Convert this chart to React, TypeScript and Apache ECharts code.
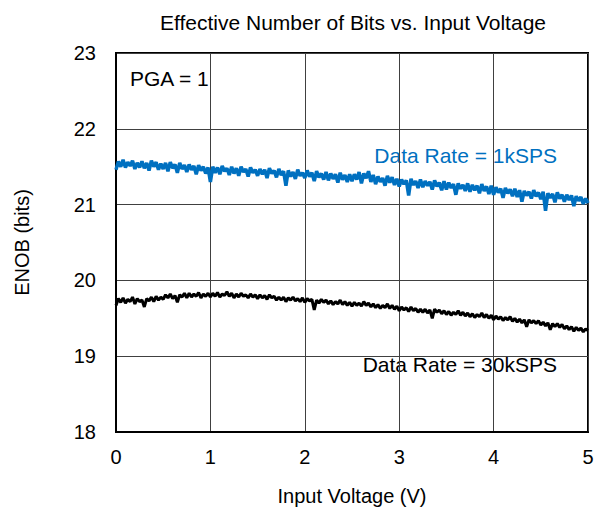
import React, { useEffect, useRef } from "react";
import * as echarts from "echarts";

const inputVoltage = [
  0, 0.025, 0.05, 0.075, 0.1, 0.125, 0.15, 0.175, 0.2, 0.225,
  0.25, 0.275, 0.3, 0.325, 0.35, 0.375, 0.4, 0.425, 0.45, 0.475,
  0.5, 0.525, 0.55, 0.575, 0.6, 0.625, 0.65, 0.675, 0.7, 0.725,
  0.75, 0.775, 0.8, 0.825, 0.85, 0.875, 0.9, 0.925, 0.95, 0.975,
  1, 1.025, 1.05, 1.075, 1.1, 1.125, 1.15, 1.175, 1.2, 1.225,
  1.25, 1.275, 1.3, 1.325, 1.35, 1.375, 1.4, 1.425, 1.45, 1.475,
  1.5, 1.525, 1.55, 1.575, 1.6, 1.625, 1.65, 1.675, 1.7, 1.725,
  1.75, 1.775, 1.8, 1.825, 1.85, 1.875, 1.9, 1.925, 1.95, 1.975,
  2, 2.025, 2.05, 2.075, 2.1, 2.125, 2.15, 2.175, 2.2, 2.225,
  2.25, 2.275, 2.3, 2.325, 2.35, 2.375, 2.4, 2.425, 2.45, 2.475,
  2.5, 2.525, 2.55, 2.575, 2.6, 2.625, 2.65, 2.675, 2.7, 2.725,
  2.75, 2.775, 2.8, 2.825, 2.85, 2.875, 2.9, 2.925, 2.95, 2.975,
  3, 3.025, 3.05, 3.075, 3.1, 3.125, 3.15, 3.175, 3.2, 3.225,
  3.25, 3.275, 3.3, 3.325, 3.35, 3.375, 3.4, 3.425, 3.45, 3.475,
  3.5, 3.525, 3.55, 3.575, 3.6, 3.625, 3.65, 3.675, 3.7, 3.725,
  3.75, 3.775, 3.8, 3.825, 3.85, 3.875, 3.9, 3.925, 3.95, 3.975,
  4, 4.025, 4.05, 4.075, 4.1, 4.125, 4.15, 4.175, 4.2, 4.225,
  4.25, 4.275, 4.3, 4.325, 4.35, 4.375, 4.4, 4.425, 4.45, 4.475,
  4.5, 4.525, 4.55, 4.575, 4.6, 4.625, 4.65, 4.675, 4.7, 4.725,
  4.75, 4.775, 4.8, 4.825, 4.85, 4.875, 4.9, 4.925, 4.95, 4.975,
  5,
];

const enob1kSPS = [
  21.46, 21.57, 21.5, 21.59, 21.49, 21.56, 21.51, 21.58, 21.47, 21.55,
  21.49, 21.57, 21.48, 21.55, 21.45, 21.58, 21.5, 21.56, 21.46, 21.54,
  21.47, 21.55, 21.44, 21.56, 21.48, 21.53, 21.42, 21.55, 21.47, 21.52,
  21.43, 21.53, 21.46, 21.51, 21.4, 21.52, 21.45, 21.5, 21.41, 21.49,
  21.3, 21.5, 21.42, 21.49, 21.4, 21.51, 21.44, 21.48, 21.39, 21.5,
  21.41, 21.48, 21.38, 21.5, 21.43, 21.47, 21.37, 21.49, 21.42, 21.46,
  21.38, 21.47, 21.4, 21.46, 21.35, 21.48, 21.41, 21.45, 21.36, 21.47,
  21.39, 21.44, 21.25, 21.45, 21.37, 21.43, 21.34, 21.46, 21.38, 21.42,
  21.35, 21.45, 21.37, 21.42, 21.31, 21.44, 21.36, 21.41, 21.33, 21.43,
  21.32, 21.41, 21.34, 21.4, 21.29, 21.42, 21.33, 21.39, 21.3, 21.4,
  21.31, 21.4, 21.33, 21.43, 21.28, 21.41, 21.35, 21.44, 21.3, 21.39,
  21.27, 21.37, 21.3, 21.35, 21.25, 21.38, 21.29, 21.36, 21.26, 21.34,
  21.24, 21.33, 21.27, 21.32, 21.12, 21.34, 21.26, 21.31, 21.22, 21.33,
  21.23, 21.31, 21.25, 21.3, 21.2, 21.32, 21.24, 21.29, 21.19, 21.31,
  21.2, 21.29, 21.22, 21.27, 21.13, 21.28, 21.21, 21.26, 21.18, 21.28,
  21.17, 21.26, 21.19, 21.25, 21.15, 21.27, 21.18, 21.24, 21.14, 21.25,
  21.13, 21.23, 21.16, 21.21, 21.09, 21.22, 21.15, 21.2, 21.11, 21.21,
  21.1, 21.19, 21.04, 21.18, 21.12, 21.17, 21.08, 21.19, 21.11, 21.16,
  21.07, 21.17, 20.92, 21.15, 21.09, 21.14, 21.03, 21.16, 21.08, 21.13,
  21.04, 21.13, 21.06, 21.12, 20.98, 21.11, 21.05, 21.1, 21.01, 21.08,
  21.02,
];

const enob30kSPS = [
  19.67, 19.76, 19.71, 19.77, 19.7, 19.75, 19.72, 19.78, 19.69, 19.76,
  19.72, 19.74, 19.65, 19.76, 19.73, 19.78, 19.72, 19.79, 19.74, 19.78,
  19.75, 19.81, 19.77, 19.82, 19.76, 19.8, 19.71, 19.81, 19.78, 19.83,
  19.77, 19.83, 19.78, 19.82, 19.79, 19.84, 19.77, 19.82, 19.79, 19.83,
  19.78, 19.83, 19.79, 19.84, 19.78, 19.82, 19.8, 19.85, 19.79, 19.83,
  19.77, 19.82, 19.78, 19.83, 19.79, 19.81, 19.77, 19.82, 19.78, 19.81,
  19.76, 19.81, 19.77, 19.8, 19.75, 19.81, 19.77, 19.79, 19.74, 19.78,
  19.74, 19.78, 19.72, 19.77, 19.74, 19.78, 19.73, 19.76, 19.72, 19.77,
  19.71, 19.76, 19.73, 19.75, 19.61, 19.74, 19.7, 19.75, 19.71, 19.74,
  19.69, 19.73, 19.68, 19.72, 19.69, 19.74, 19.68, 19.72, 19.67, 19.71,
  19.66, 19.71, 19.67, 19.7, 19.66, 19.72, 19.67, 19.7, 19.65, 19.69,
  19.64, 19.68, 19.63, 19.67, 19.64, 19.69, 19.63, 19.67, 19.62, 19.66,
  19.6, 19.65, 19.61, 19.64, 19.59, 19.65, 19.6, 19.63, 19.58, 19.62,
  19.58, 19.62, 19.57, 19.61, 19.5, 19.62, 19.58, 19.61, 19.56, 19.6,
  19.55, 19.59, 19.54, 19.58, 19.55, 19.6, 19.54, 19.58, 19.53, 19.57,
  19.52, 19.56, 19.51, 19.55, 19.52, 19.57, 19.51, 19.55, 19.5, 19.54,
  19.48, 19.53, 19.49, 19.52, 19.47, 19.51, 19.48, 19.52, 19.46, 19.5,
  19.45, 19.49, 19.44, 19.48, 19.39, 19.48, 19.44, 19.47, 19.43, 19.47,
  19.41, 19.45, 19.4, 19.44, 19.35, 19.43, 19.39, 19.43, 19.38, 19.42,
  19.36, 19.4, 19.35, 19.39, 19.33, 19.38, 19.34, 19.37, 19.32, 19.36,
  19.34,
];

const FONT = "'Liberation Sans', Arial, sans-serif";

export default function App() {
  const ref = useRef<HTMLDivElement>(null);
  useEffect(() => {
    if (!ref.current) return;
    const chart = echarts.init(ref.current, null, { renderer: "svg" });
    const pair = (ys: number[]) => ys.map((y, i) => [inputVoltage[i], y]);
    chart.setOption({
      animation: false,
      backgroundColor: "#fff",
      textStyle: { fontFamily: FONT },
      grid: {
        left: 116,
        right: 7,
        top: 53,
        bottom: 78,
        show: true,
        borderColor: "#000",
        borderWidth: 2,
        outerBoundsMode: "none",
      },
      xAxis: {
        type: "value",
        min: 0,
        max: 5,
        interval: 1,
        name: "Input Voltage (V)",
        nameLocation: "middle",
        nameGap: 54,
        nameTextStyle: { fontSize: 20, color: "#000", fontFamily: FONT },
        axisLine: { show: true, lineStyle: { color: "#000", width: 2 } },
        axisTick: { show: false },
        axisLabel: { fontSize: 20, color: "#000", margin: 15, fontFamily: FONT },
        splitLine: { show: true, lineStyle: { color: "#404040", width: 1 } },
      },
      yAxis: {
        type: "value",
        min: 18,
        max: 23,
        interval: 1,
        name: "ENOB (bits)",
        nameLocation: "middle",
        nameGap: 84,
        nameTextStyle: { fontSize: 20, color: "#000", fontFamily: FONT },
        axisLine: { show: true, lineStyle: { color: "#000", width: 2 } },
        axisTick: { show: false },
        axisLabel: { fontSize: 20, color: "#000", margin: 20, fontFamily: FONT },
        splitLine: { show: true, lineStyle: { color: "#404040", width: 1 } },
      },
      series: [
        {
          name: "Data Rate = 1kSPS",
          type: "line",
          data: pair(enob1kSPS),
          showSymbol: false,
          lineStyle: { color: "#0070C0", width: 3.5 },
          z: 3,
        },
        {
          name: "Data Rate = 30kSPS",
          type: "line",
          data: pair(enob30kSPS),
          showSymbol: false,
          lineStyle: { color: "#000", width: 3 },
          z: 3,
        },
      ],
      graphic: [
        {
          type: "text",
          x: 353,
          y: 22,
          style: {
            text: "Effective Number of Bits vs. Input Voltage",
            fill: "#000",
            font: `21px ${FONT}`,
            textAlign: "center",
            textVerticalAlign: "middle",
          },
        },
        {
          type: "text",
          x: 130,
          y: 78,
          style: {
            text: "PGA = 1",
            fill: "#000",
            font: `21px ${FONT}`,
            textAlign: "left",
            textVerticalAlign: "middle",
          },
        },
        {
          type: "text",
          x: 557,
          y: 155,
          style: {
            text: "Data Rate = 1kSPS",
            fill: "#0070C0",
            font: `21px ${FONT}`,
            textAlign: "right",
            textVerticalAlign: "middle",
          },
        },
        {
          type: "text",
          x: 557,
          y: 364,
          style: {
            text: "Data Rate = 30kSPS",
            fill: "#000",
            font: `21px ${FONT}`,
            textAlign: "right",
            textVerticalAlign: "middle",
          },
        },
      ],
    });
    return () => chart.dispose();
  }, []);
  return (
    <div
      ref={ref}
      style={{ position: "fixed", left: 0, top: 0, width: 595, height: 510 }}
    />
  );
}
